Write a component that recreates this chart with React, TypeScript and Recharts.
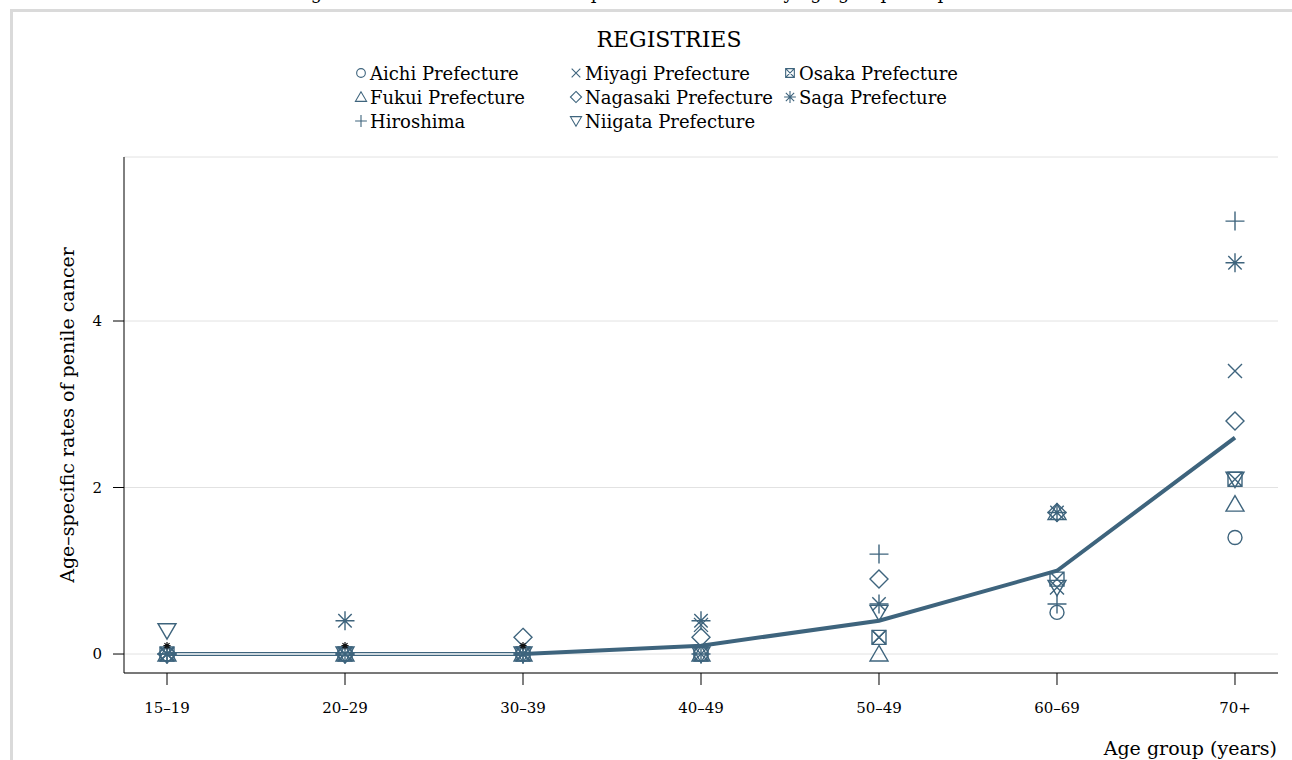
import { ComposedChart, Line, Scatter, XAxis, YAxis, CartesianGrid } from 'recharts'

const ageGroups = ['15–19', '20–29', '30–39', '40–49', '50–49', '60–69', '70+']

// registry-specific rates per age group
const aichi = [0, 0, 0, 0, null, 0.5, 1.4]
const fukui = [0, 0, 0, 0, 0, 1.7, 1.8]
const hiroshima = [0, 0, 0, 0, 1.2, 0.6, 5.2]
const miyagi = [0, 0, 0, 0.35, 0.2, 0.8, 3.4]
const nagasaki = [0, 0, 0.2, 0.2, 0.9, 1.7, 2.8]
const niigata = [0.28, 0, 0, 0, 0.5, 0.8, 2.1]
const osaka = [0, 0, 0, 0, 0.2, 0.9, 2.1]
const saga = [0, 0.4, 0, 0.4, 0.6, 1.7, 4.7]

// overall rate (thick line) and the small black marks near zero
const overall = [0, 0, 0, 0.1, 0.4, 1.0, 2.6]
const smallMarks = [0.1, 0.1, 0.1, null, null, null, null]

const yTicks = [0, 2, 4]

const COLOR = '#3e647d'
const FONT = '"DejaVu Serif", serif'

type Kind = 'circle' | 'triUp' | 'plus' | 'cross' | 'diamond' | 'triDown' | 'boxX' | 'star'

const registries: { key: string; name: string; kind: Kind; values: (number | null)[] }[] = [
  { key: 'aichi', name: 'Aichi Prefecture', kind: 'circle', values: aichi },
  { key: 'fukui', name: 'Fukui Prefecture', kind: 'triUp', values: fukui },
  { key: 'hiroshima', name: 'Hiroshima', kind: 'plus', values: hiroshima },
  { key: 'miyagi', name: 'Miyagi Prefecture', kind: 'cross', values: miyagi },
  { key: 'nagasaki', name: 'Nagasaki Prefecture', kind: 'diamond', values: nagasaki },
  { key: 'niigata', name: 'Niigata Prefecture', kind: 'triDown', values: niigata },
  { key: 'osaka', name: 'Osaka Prefecture', kind: 'boxX', values: osaka },
  { key: 'saga', name: 'Saga Prefecture', kind: 'star', values: saga },
]

const rows = ageGroups.map((g, i) => {
  const r: Record<string, any> = { x: i, label: g, overall: overall[i], flat: i <= 2 ? overall[i] : null, small: smallMarks[i] }
  registries.forEach((reg) => (r[reg.key] = reg.values[i]))
  return r
})

function Marker({ kind, cx, cy, s = 1, color = COLOR, sw = 1.4 }: { kind: Kind; cx: number; cy: number; s?: number; color?: string; sw?: number }) {
  const p = { fill: 'none', stroke: color, strokeWidth: sw }
  switch (kind) {
    case 'circle':
      return <circle cx={cx} cy={cy} r={7 * s} {...p} />
    case 'triUp':
      return <path d={`M${cx},${cy - 8.5 * s}L${cx - 9 * s},${cy + 7 * s}L${cx + 9 * s},${cy + 7 * s}Z`} {...p} />
    case 'triDown':
      return <path d={`M${cx},${cy + 8.5 * s}L${cx - 9 * s},${cy - 7 * s}L${cx + 9 * s},${cy - 7 * s}Z`} {...p} />
    case 'plus':
      return <path d={`M${cx - 9.5 * s},${cy}H${cx + 9.5 * s}M${cx},${cy - 9.5 * s}V${cy + 9.5 * s}`} {...p} />
    case 'cross':
      return <path d={`M${cx - 7 * s},${cy - 7 * s}L${cx + 7 * s},${cy + 7 * s}M${cx - 7 * s},${cy + 7 * s}L${cx + 7 * s},${cy - 7 * s}`} {...p} />
    case 'diamond':
      return <path d={`M${cx},${cy - 9 * s}L${cx + 9 * s},${cy}L${cx},${cy + 9 * s}L${cx - 9 * s},${cy}Z`} {...p} />
    case 'boxX': {
      const h = 7 * s
      return (
        <path
          d={`M${cx - h},${cy - h}H${cx + h}V${cy + h}H${cx - h}ZM${cx - h},${cy - h}L${cx + h},${cy + h}M${cx - h},${cy + h}L${cx + h},${cy - h}`}
          {...p}
        />
      )
    }
    case 'star': {
      const a = 9.5 * s
      const b = 6.7 * s
      return <path d={`M${cx - a},${cy}H${cx + a}M${cx},${cy - a}V${cy + a}M${cx - b},${cy - b}L${cx + b},${cy + b}M${cx - b},${cy + b}L${cx + b},${cy - b}`} {...p} />
    }
  }
  return null
}

// legend layout: three columns, filled column by column
const legendCols = [361, 576, 790]
const legendRows = [73, 97, 121]
const legendPos = [
  [0, 0], [0, 1], [0, 2],
  [1, 0], [1, 1], [1, 2],
  [2, 0], [2, 1],
]

export default function App() {
  return (
    <div style={{ position: 'fixed', left: 0, top: 0, width: '100vw', height: '100vh', overflow: 'hidden', background: '#fff' }}>
      {/* outer frame: only its left and top edges fall inside the view */}
      <div style={{ position: 'absolute', left: 10, top: 9, width: 3, height: 760, background: '#dadada' }} />
      <div style={{ position: 'absolute', left: 10, top: 9, width: 1300, height: 3, background: '#dadada' }} />
      <div style={{ position: 'absolute', left: 0, top: 0 }}>
        <ComposedChart width={1292} height={760} data={rows} margin={{ top: 157, right: 14, bottom: 47, left: 84 }}>
          <CartesianGrid vertical={false} stroke="#e2e2e2" strokeWidth={1} />
          <XAxis
            type="number"
            dataKey="x"
            domain={[-0.2416, 6.2416]}
            ticks={[0, 1, 2, 3, 4, 5, 6]}
            tickFormatter={(v) => ageGroups[v] ?? ''}
            allowDataOverflow
            height={40}
            tickSize={12}
            tickMargin={17}
            stroke="#000"
            tick={{ fill: '#000', fontSize: 15, fontFamily: FONT }}
          />
          <YAxis
            type="number"
            domain={[-0.228, 5.97]}
            ticks={yTicks}
            allowDataOverflow
            width={40}
            tickSize={11}
            tickMargin={11}
            stroke="#000"
            tick={{ fill: '#000', fontSize: 15, fontFamily: FONT }}
          />
          {registries.map((reg) => (
            <Scatter
              key={reg.key}
              data={rows.filter((r) => r[reg.key] != null)}
              dataKey={reg.key}
              isAnimationActive={false}
              legendType="none"
              shape={(props: any) => <Marker kind={reg.kind} cx={props.cx} cy={props.cy} />}
            />
          ))}
          <Scatter
            data={rows.filter((r) => r.small != null)}
            dataKey="small"
            isAnimationActive={false}
            legendType="none"
            shape={(props: any) => <Marker kind="star" cx={props.cx} cy={props.cy} s={0.38} color="#111" sw={1.2} />}
          />
          <Line type="linear" dataKey="overall" stroke={COLOR} strokeWidth={4} dot={false} isAnimationActive={false} />
          <Line type="linear" dataKey="flat" stroke="#fff" strokeWidth={1.3} dot={false} isAnimationActive={false} connectNulls={false} />
        </ComposedChart>
      </div>
      <svg width={1292} height={760} style={{ position: 'absolute', left: 0, top: 0, pointerEvents: 'none', overflow: 'visible' }} fontFamily={FONT}>
        <text x={646} y={-1} textAnchor="middle" fontSize={18} fill="#000">
          Average and individual incidence of penile cancer rates by age group and prefecture
        </text>
        <text x={669} y={39} textAnchor="middle" dominantBaseline="central" fontSize={22} fill="#000">
          REGISTRIES
        </text>
        {registries.map((reg, i) => {
          const [c, r] = legendPos[i]
          const x = legendCols[c]
          const y = legendRows[r]
          return (
            <g key={reg.key}>
              <Marker kind={reg.kind} cx={x} cy={y} s={0.62} sw={1.1} />
              <text x={x + 9} y={y} dominantBaseline="central" fontSize={18} fill="#000">
                {reg.name}
              </text>
            </g>
          )
        })}
        <text x={67} y={415} textAnchor="middle" dominantBaseline="central" fontSize={19} fill="#000" transform="rotate(-90 67 415)">
          Age–specific rates of penile cancer
        </text>
        <text x={1277} y={748} textAnchor="end" dominantBaseline="central" fontSize={19} fill="#000">
          Age group (years)
        </text>
      </svg>
    </div>
  )
}
